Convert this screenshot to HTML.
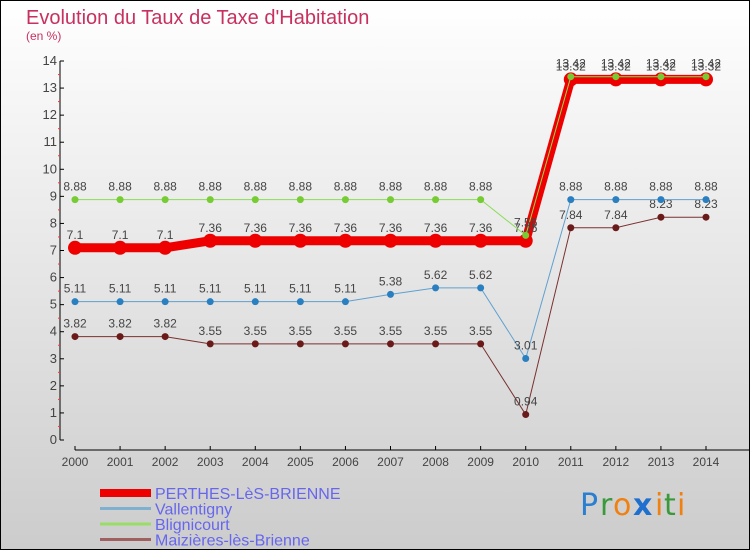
<!DOCTYPE html>
<html><head><meta charset="utf-8"><style>
html,body{margin:0;padding:0}
body{width:750px;height:550px;overflow:hidden;font-family:"Liberation Sans",sans-serif}
</style></head><body>
<svg id="chart" width="750" height="550" xmlns="http://www.w3.org/2000/svg" font-family="Liberation Sans, sans-serif">
<defs><linearGradient id="bg" x1="0" y1="0" x2="0" y2="1"><stop offset="0" stop-color="#ffffff"/><stop offset="1" stop-color="#cccccc"/></linearGradient></defs>
<rect x="0.5" y="0.5" width="749" height="549" fill="url(#bg)" stroke="#000"/>
<text x="26" y="24" font-size="20" fill="#c8305f">Evolution du Taux de Taxe d'Habitation</text>
<text x="26" y="40" font-size="12" fill="#c8305f">(en %)</text>
<g id="axes"></g><g id="series"></g><g id="legend"></g>
<g font-size="30" font-family="DejaVu Sans, sans-serif">
<text x="580" y="515" fill="#2a7fd0">P</text><text x="600" y="515" fill="#3a9a3a">r</text><text x="613" y="515" fill="#f08010">o</text><text x="633" y="515" fill="#1f6fcf" font-weight="bold">x</text><text x="655" y="515" fill="#f08010">i</text><text x="664" y="515" fill="#3a9a3a">t</text><text x="677" y="515" fill="#f08010">i</text>
</g>
</svg>
<script>
const years=[2000,2001,2002,2003,2004,2005,2006,2007,2008,2009,2010,2011,2012,2013,2014];
const yTicks=[0,1,2,3,4,5,6,7,8,9,10,11,12,13,14];
const perthes=[7.1,7.1,7.1,7.36,7.36,7.36,7.36,7.36,7.36,7.36,7.36,13.32,13.32,13.32,13.32];
const vallentigny=[5.11,5.11,5.11,5.11,5.11,5.11,5.11,5.38,5.62,5.62,3.01,8.88,8.88,8.88,8.88];
const blignicourt=[8.88,8.88,8.88,8.88,8.88,8.88,8.88,8.88,8.88,8.88,7.56,13.42,13.42,13.42,13.42];
const maizieres=[3.82,3.82,3.82,3.55,3.55,3.55,3.55,3.55,3.55,3.55,0.94,7.84,7.84,8.23,8.23];
const names=["PERTHES-LèS-BRIENNE","Vallentigny","Blignicourt","Maizières-lès-Brienne"];
const NS="http://www.w3.org/2000/svg";
const xs=i=>75+i*(631/14);
const ys=v=>440-v*(379/14);
function mk(tag,attrs,parent,txt){const e=document.createElementNS(NS,tag);for(const k in attrs)e.setAttribute(k,attrs[k]);if(txt!==undefined)e.textContent=txt;parent.appendChild(e);return e;}
const axes=document.getElementById('axes');
let a=mk('line',{x1:60,y1:ys(14),x2:60,y2:ys(0),stroke:'#000'},axes);


yTicks.forEach(t=>{
 const l=mk('line',{x1:60,y1:ys(t),x2:64,y2:ys(t),stroke:'#000'},axes);
 
 
 if(t<14){const m=mk('line',{x1:58,y1:ys(t+0.5),x2:60,y2:ys(t+0.5),stroke:'#f33'},axes);
 
 }
 const tx=mk('text',{x:57,y:ys(t)+4,'font-size':13,fill:'#444','text-anchor':'end'},axes,String(t));
 
 
});
a=mk('line',{x1:75,y1:450,x2:750,y2:450,stroke:'#000'},axes);


years.forEach((y,i)=>{
 const l=mk('line',{x1:xs(i),y1:446,x2:xs(i),y2:450,stroke:'#000'},axes);
 
 
 const tx=mk('text',{x:xs(i),y:466,'font-size':12,fill:'#444','text-anchor':'middle'},axes,String(y));
 
 
});
const sg=document.getElementById('series');
function series(vals,color,w,r,name,dot){
 const g=mk('g',{},sg);
 
 
 const p=mk('polyline',{points:vals.map((v,i)=>xs(i)+','+ys(v)).join(' '),fill:'none',stroke:color,'stroke-width':w,'stroke-linejoin':'round'},g);
 
 
 vals.forEach((v,i)=>{
  const c=mk('circle',{cx:xs(i),cy:ys(v),r:r,fill:dot},g);
  
  
  const t=mk('text',{x:xs(i),y:ys(v)-9,'font-size':12,fill:'#444','text-anchor':'middle'},g,String(v));
  
  
 });
}
series(maizieres,'#7a3030',1,3.5,'maizieres-series','#6b1a1a');
series(vallentigny,'#5fa0d0',1,3.5,'vallentigny-series','#2a7fc0');
series(perthes,'#ee0000',9,7,'perthes-series','#ee0000');
series(blignicourt,'#88dd55',1,3.5,'blignicourt-series','#77cc33');
const lg=document.getElementById('legend');
const cols=['#ee0000','#7fb0d0','#99dd66','#a06060'];
const wd=[8,3,3,3];
names.forEach((n,i)=>{
 const y=493+i*15.5;
 const l=mk('line',{x1:100,y1:y,x2:151,y2:y,stroke:cols[i],'stroke-width':wd[i]},lg);
 
 
 const t=mk('text',{x:155,y:y+6,'font-size':16,fill:'#6666ee'},lg,n);
 
 
});
</script>
</body></html>
